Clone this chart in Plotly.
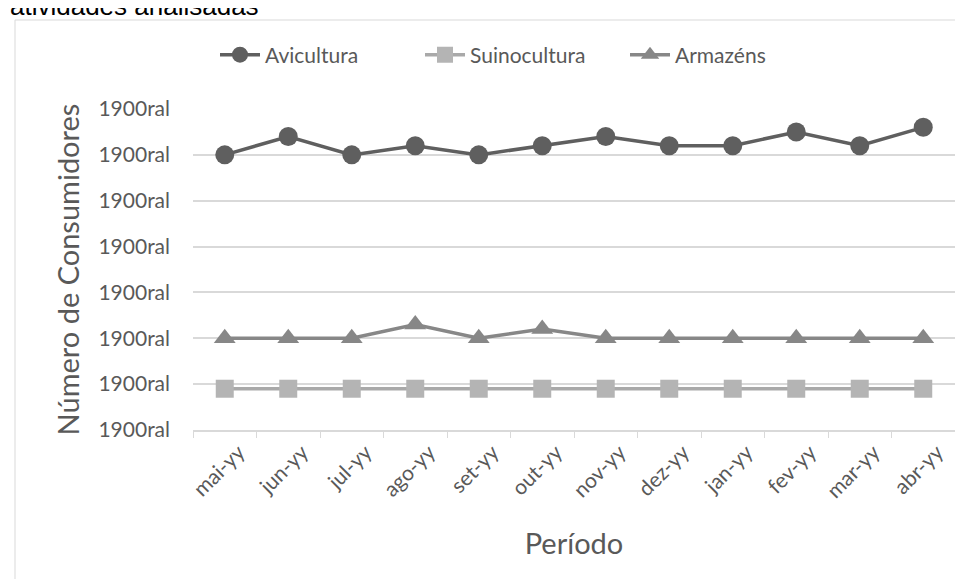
import plotly.graph_objects as go

categories = ["mai-yy", "jun-yy", "jul-yy", "ago-yy", "set-yy", "out-yy",
              "nov-yy", "dez-yy", "jan-yy", "fev-yy", "mar-yy", "abr-yy"]
avicultura = [60, 64, 60, 62, 60, 62, 64, 62, 62, 65, 62, 66]
suinocultura = [9, 9, 9, 9, 9, 9, 9, 9, 9, 9, 9, 9]
armazens = [20, 20, 20, 23, 20, 22, 20, 20, 20, 20, 20, 20]
y_tickvals = [0, 10, 20, 30, 40, 50, 60, 70]
y_ticktext = ["1900ral"] * 8

FONT = "Lato"
L, R, T, B = 185, 16, 101, 157
W, H = 963, 579
PW, PH = W - L - R, H - T - B

fig = go.Figure()
fig.add_trace(go.Scatter(x=categories, y=avicultura, name="Avicultura", mode="lines+markers",
                         line=dict(color="#5f5f5f", width=3.5),
                         marker=dict(symbol="circle", size=19, color="#5f5f5f")))
fig.add_trace(go.Scatter(x=categories, y=suinocultura, name="Suinocultura", mode="lines+markers",
                         line=dict(color="#a9a9a9", width=3.5),
                         marker=dict(symbol="square", size=18, color="#b4b4b4")))
fig.add_trace(go.Scatter(x=categories, y=armazens, name="Armazéns", mode="lines+markers",
                         line=dict(color="#878787", width=3.5),
                         marker=dict(symbol="triangle-up", size=19, color="#878787")))

fig.update_layout(
    width=W, height=H,
    margin=dict(l=L, r=R, t=T, b=B, autoexpand=False),
    paper_bgcolor="white", plot_bgcolor="white",
    font=dict(family=FONT, color="#595959", size=20),
    showlegend=True,
    legend=dict(orientation="h", xref="container", yref="container",
                x=207 / W, xanchor="left", y=1 - 47 / H, yanchor="middle",
                font=dict(size=21, color="#595959"), itemwidth=40, tracegroupgap=0,
                entrywidth=150, entrywidthmode="pixels"),
    xaxis=dict(type="category", showgrid=False, showline=True, linecolor="#d9d9d9", linewidth=1.5,
               ticks="outside", tickson="boundaries", ticklen=6, tickcolor="#d9d9d9",
               tickangle=-45, tickfont=dict(size=21, color="#595959"), automargin=False,
               ticklabelshift=14,
               title=dict(text="Período", font=dict(size=29, color="#595959"), standoff=32),
               range=[-0.5, 11.5]),
    yaxis=dict(range=[0, 70], tickvals=y_tickvals, ticktext=y_ticktext, showgrid=True,
               gridcolor="#d9d9d9", gridwidth=1.5, zeroline=False, showline=False,
               ticklabelstandoff=22, tickfont=dict(size=21, color="#595959"), automargin=False,
               title=dict(text="Número de Consumidores", font=dict(size=29, color="#595959"), standoff=10)),
)
fig.add_shape(type="rect", xref="paper", yref="paper", x0=(7 - L) / PW, x1=1.1,
              y0=-0.6, y1=1 + (T - 12) / PH, line=dict(color="#d9d9d9", width=1), layer="below")
fig.add_annotation(text="atividades analisadas", xref="paper", yref="paper",
                   x=(0 - L) / PW, xanchor="left", y=1 + (T + 2) / PH, yanchor="middle",
                   showarrow=False, font=dict(family="Liberation Sans", size=26, color="#000000"))
fig.write_html("out.html")
